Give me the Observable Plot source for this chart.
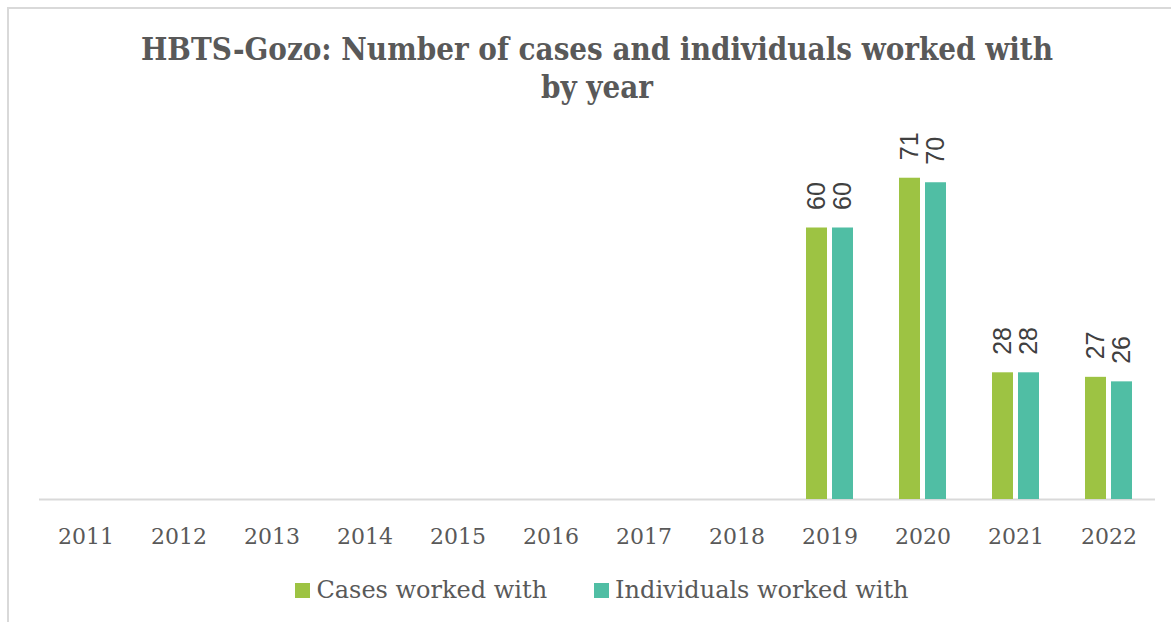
<!DOCTYPE html>
<html>
<head>
<meta charset="utf-8">
<script src="https://cdn.jsdelivr.net/npm/d3@7"></script>
<script src="https://cdn.jsdelivr.net/npm/@observablehq/plot@0.6"></script>
<style>
  html, body { margin: 0; padding: 0; background: #fff; }
  #frame { position: absolute; left: 7px; top: 7px; width: 1164px; height: 615px;
           border-left: 2px solid #d9d9d9; border-top: 2px solid #d9d9d9; box-sizing: border-box; }
  #title { position: absolute; left: 0; top: 30px; width: 1194px; text-align: center;
           font-family: "DejaVu Serif Condensed", "DejaVu Serif", serif; font-weight: bold;
           font-size: 31px; line-height: 38px; color: #595959; }
  #chart { position: absolute; left: 0; top: 120px; }
  #legend { position: absolute; left: 0; top: 574px; width: 1204px; display: flex; justify-content: center;
            font-family: "DejaVu Serif", serif; font-size: 24px; line-height: 32px; color: #595959; gap: 47px; }
  #legend span.item { display: flex; align-items: center; }
  #legend span.sw { display: inline-block; width: 15px; height: 15px; margin-right: 6px; }
</style>
</head>
<body>
<div id="frame"></div>
<div id="title">HBTS-Gozo: Number of cases and individuals worked with<br>by year</div>
<div id="chart"></div>
<div id="legend"></div>
<script>
const years = ["2011","2012","2013","2014","2015","2016","2017","2018","2019","2020","2021","2022"];
const seriesNames = ["Cases worked with", "Individuals worked with"];
const cases = [null, null, null, null, null, null, null, null, 60, 71, 28, 27];
const individuals = [null, null, null, null, null, null, null, null, 60, 70, 28, 26];
const colors = ["#9dc343", "#50bea4"];

const rows = [];
years.forEach((y, i) => {
  if (cases[i] != null) rows.push({year: y, series: seriesNames[0], value: cases[i]});
  if (individuals[i] != null) rows.push({year: y, series: seriesNames[1], value: individuals[i]});
});

const plot = Plot.plot({
  width: 1171,
  height: 440,
  marginTop: 17,
  marginBottom: 61,
  marginLeft: 37,
  marginRight: 14,
  style: {fontFamily: "DejaVu Serif, serif", color: "#595959", background: "transparent", fontSize: "22px"},
  fx: {domain: years, padding: 0, axis: "bottom", label: null, tickSize: 0, tickPadding: 29},
  x: {domain: seriesNames, axis: null, paddingInner: 0.2, paddingOuter: 0.86},
  y: {domain: [0, 80], axis: null},
  color: {domain: seriesNames, range: colors},
  marks: [
    Plot.ruleY(years, {fx: d => d, y: () => 0, stroke: "#d9d9d9", strokeWidth: 2}),
    Plot.barY(rows, {fx: "year", x: "series", y: "value", fill: "series"}),
    Plot.text(rows, {fx: "year", x: "series", y: "value", text: d => String(d.value),
      rotate: -90, textAnchor: "start", dy: -18, fontSize: 25, fill: "#404040",
      fontFamily: "Liberation Sans, Arial, sans-serif"})
  ]
});
document.getElementById("chart").appendChild(plot);

const legend = document.getElementById("legend");
seriesNames.forEach((s, i) => {
  const item = document.createElement("span");
  item.className = "item";
  const sw = document.createElement("span");
  sw.className = "sw";
  sw.style.background = colors[i];
  item.appendChild(sw);
  item.appendChild(document.createTextNode(s));
  legend.appendChild(item);
});
</script>
</body>
</html>
